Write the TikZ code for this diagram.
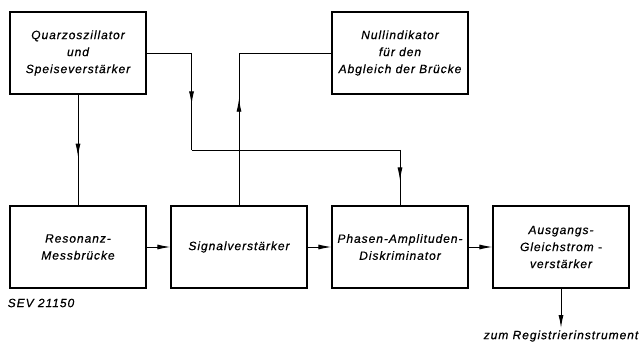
\documentclass[tikz,border=0pt]{standalone}
\usepackage{fontspec}
\newfontfamily\dinfont[LetterSpace=8, FakeBold=0.6]{Liberation Sans}
\usetikzlibrary{positioning, arrows.meta, decorations.markings, calc}

\tikzset{
  block/.style={draw, line width=1.1pt, minimum width=136pt, minimum height=82pt,
    align=center, font=\dinfont\itshape\fontsize{12}{17}\selectfont},
  txt/.style={inner sep=2pt, font=\dinfont\itshape\fontsize{12}{17}\selectfont},
  mid arrow/.style={postaction={decorate},
    decoration={markings, mark=at position #1 with {\arrow{Latex[length=13pt,width=5pt]}}}},
}

\begin{document}
\begin{tikzpicture}
	[x=1pt, y=1pt, on grid, node distance=161pt, line width=0.95pt,
	 >={Latex[length=13pt,width=5pt]}]
   \useasboundingbox (0,0) rectangle (644,-344);

   \node[block] (quarz) at (78,-53) {Quarzoszillator\\und\\Speiseverstärker};
   \node[block] (reson) [below=194pt of quarz] {Resonanz-\\Messbrücke};
   \node[block] (signal) [right=of reson] {Signalverstärker};
   \node[block] (phasen) [right=of signal] {Phasen-Amplituden-\\Diskriminator};
   \node[block] (ausg) [right=of phasen] {Ausgangs-\\Gleichstrom -\\verstärker};
   \node[block] (null) [above=194pt of phasen] {Nullindikator\\für den\\Abgleich der Brücke};

   \node[txt] (sev) at (41,-303) {SEV 21150};
   \node[txt, anchor=north] (reg) at (ausg.south |- 0,-328) {zum Registrierinstrument};

   % Knickpunkte der Leitungen
   \coordinate (k1) at ($(quarz.east)+(45,0)$);
   \coordinate (k2) at ($(k1)+(0,-97)$);
   \coordinate (k3) at (k2 -| phasen.north);
   \coordinate (k4) at (signal.north |- null.west);

   \draw[mid arrow=0.56] (quarz.south) -- (reson.north);
   \draw (quarz.east) -- (k1);
   \draw[mid arrow=0.53] (k1) -- (k2);
   \draw (k2) -- (k3);
   \draw[mid arrow=0.55] (k3) -- (phasen.north);
   \draw[mid arrow=0.7] (signal.north) -- (k4);
   \draw (k4) -- (null.west);

   \draw[->] (reson) -- (signal);
   \draw[->] (signal) -- (phasen);
   \draw[->] (phasen) -- (ausg);
   \draw[->] (ausg.south) -- (reg.north);
\end{tikzpicture}
\end{document}
